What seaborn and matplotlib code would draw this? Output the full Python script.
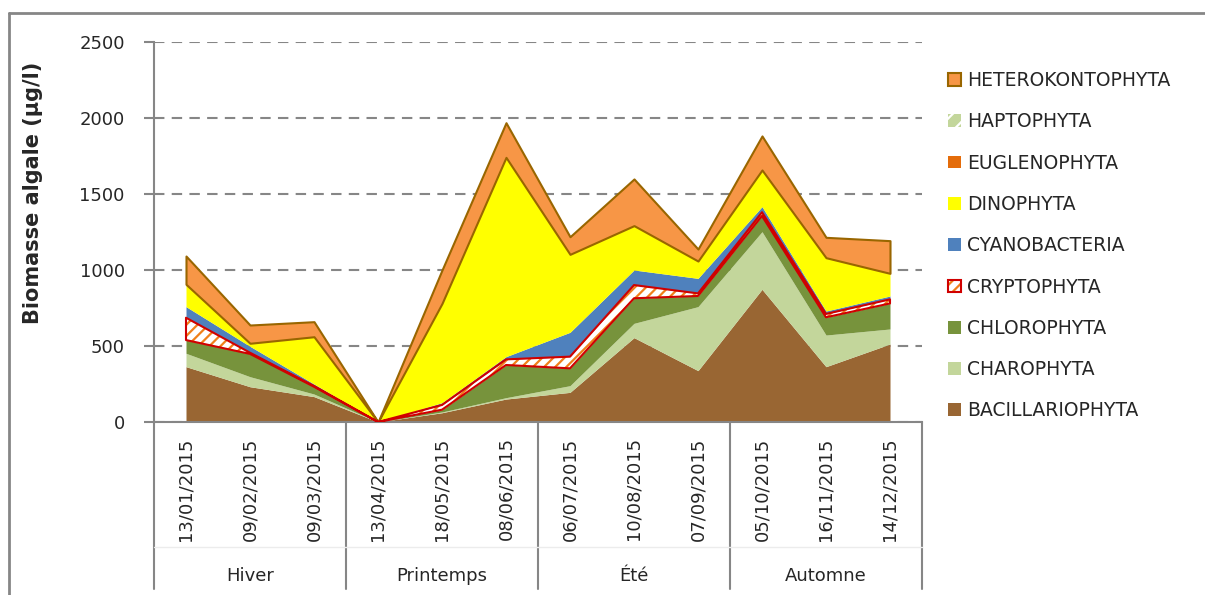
"""
Biomasse algale par groupe taxonomique, 2015 (aires empilées)
Outputs out.png
"""

import matplotlib.pyplot as plt
import numpy as np
import pandas as pd
import seaborn as sns
from matplotlib.lines import Line2D
from matplotlib.patches import Patch
from matplotlib.transforms import blended_transform_factory

dates = ['13/01/2015', '09/02/2015', '09/03/2015', '13/04/2015',
         '18/05/2015', '08/06/2015', '06/07/2015', '10/08/2015',
         '07/09/2015', '05/10/2015', '16/11/2015', '14/12/2015']
seasons = ['Hiver', 'Printemps', 'Été', 'Automne']

bacillariophyta = [364, 232, 167, 0, 61, 151, 195, 555, 338, 873, 364, 513]
charophyta = [88, 66, 17, 0, 5, 9, 44, 94, 421, 379, 208, 99]
chlorophyta = [87, 150, 48, 0, 15, 215, 114, 165, 70, 103, 117, 168]
cryptophyta = [147, 8, 5, 0, 31, 37, 77, 87, 17, 25, 22, 27]
cyanobacteria = [73, 42, 13, 0, 15, 18, 160, 99, 99, 37, 19, 22]
dinophyta = [147, 20, 311, 0, 653, 1311, 513, 292, 114, 241, 351, 149]
euglenophyta = [0, 0, 0, 0, 0, 0, 0, 0, 0, 0, 0, 0]
haptophyta = [0, 0, 0, 0, 0, 0, 0, 0, 0, 0, 0, 0]
heterokontophyta = [186, 120, 99, 0, 220, 228, 116, 307, 79, 224, 134, 215]

sns.set_theme(style='white')
plt.rcParams['font.family'] = ['DejaVu Sans']
plt.rcParams['hatch.linewidth'] = 1.6


def main():
    df = pd.DataFrame({
        'BACILLARIOPHYTA': bacillariophyta,
        'CHAROPHYTA': charophyta,
        'CHLOROPHYTA': chlorophyta,
        'CRYPTOPHYTA': cryptophyta,
        'CYANOBACTERIA': cyanobacteria,
        'DINOPHYTA': dinophyta,
        'EUGLENOPHYTA': euglenophyta,
        'HAPTOPHYTA': haptophyta,
        'HETEROKONTOPHYTA': heterokontophyta,
    }, index=dates)

    colors = {
        'BACILLARIOPHYTA': '#996633',
        'CHAROPHYTA': '#C3D69B',
        'CHLOROPHYTA': '#77933C',
        'CRYPTOPHYTA': 'white',
        'CYANOBACTERIA': '#4F81BD',
        'DINOPHYTA': '#FFFF00',
        'EUGLENOPHYTA': '#E46C0A',
        'HAPTOPHYTA': '#C3D69B',
        'HETEROKONTOPHYTA': '#F79646',
    }

    fig = plt.figure(figsize=(12.05, 5.95), dpi=100)
    ax = fig.add_axes([154 / 1205, 1 - 422 / 595, 768 / 1205, 380 / 595])

    x = np.arange(len(dates))
    base = np.zeros(len(dates))
    for name in df.columns:
        top = base + df[name].to_numpy()
        if name == 'CRYPTOPHYTA':
            ax.fill_between(x, base, top, facecolor='white', edgecolor='#F0801A',
                            hatch='///', linewidth=0, zorder=2)
            ax.fill_between(x, base, top, facecolor='none', edgecolor='#D00000',
                            linewidth=1.5, zorder=3)
        elif name == 'HETEROKONTOPHYTA':
            ax.fill_between(x, base, top, facecolor=colors[name],
                            edgecolor='#996600', linewidth=1.5, zorder=2)
        else:
            ax.fill_between(x, base, top, facecolor=colors[name],
                            linewidth=0, zorder=2)
        base = top

    ax.set_xlim(-0.5, len(dates) - 0.5)
    ax.set_ylim(0, 2500)
    ax.set_yticks(np.arange(0, 2501, 500))
    ax.yaxis.grid(True, color='#868686', linestyle=(0, (5, 3.5)), linewidth=1.5)
    ax.set_axisbelow(True)
    sns.despine(ax=ax, top=True, right=True)
    for side in ['left', 'bottom']:
        ax.spines[side].set_color('#868686')
        ax.spines[side].set_linewidth(1.5)
    ax.tick_params(axis='y', direction='out', length=7, width=1.5,
                   color='#868686', labelsize=13, pad=14, left=True)
    ax.set_xticks(x)
    ax.set_xticklabels(dates, rotation=90, fontsize=13)
    ax.tick_params(axis='x', length=0, pad=11, labelsize=13)

    # category groups below the axis
    trans = blended_transform_factory(ax.transData, ax.transAxes)
    bottom = -(589 - 422) / 380
    for b in [-0.5, 2.5, 5.5, 8.5, 11.5]:
        ax.add_line(Line2D([b, b], [0, bottom], transform=trans, color='#868686',
                           linewidth=1.5, clip_on=False))
    ax.add_line(Line2D([-0.5, 11.5], [-(547 - 422) / 380] * 2, transform=trans,
                       color='#ececec', linewidth=1, clip_on=False))
    for i, s in enumerate(seasons):
        ax.text(i * 3 + 1, -(576 - 422) / 380, s, transform=trans, ha='center',
                va='center', fontsize=13)

    fig.text(33 / 1205, 1 - 193 / 595, 'Biomasse algale (µg/l)', rotation=90,
             ha='center', va='center', fontsize=15, fontweight='bold')

    # legend (reverse order, like the stack)
    handles = []
    for name in df.columns[::-1]:
        if name == 'CRYPTOPHYTA':
            h = (Patch(facecolor='white', edgecolor='#F0801A', hatch='///', linewidth=0),
                 Patch(facecolor='none', edgecolor='#D00000', linewidth=1.5))
        elif name == 'HAPTOPHYTA':
            h = Patch(facecolor='#C3D69B', edgecolor='white', hatch='//', linewidth=0)
        elif name == 'HETEROKONTOPHYTA':
            h = Patch(facecolor=colors[name], edgecolor='#996600', linewidth=1.5)
        else:
            h = Patch(facecolor=colors[name], linewidth=0)
        handles.append(h)
    fig.legend(handles, list(df.columns[::-1]), loc='upper left',
               bbox_to_anchor=(948 / 1205, 1 - 71 / 595), frameon=False,
               fontsize=13.5, handlelength=0.68, handleheight=0.68,
               handletextpad=0.35, labelspacing=1.19, borderpad=0,
               borderaxespad=0)

    # chart frame (only left and top edges visible)
    fig.add_artist(Line2D([9 / 1205, 9 / 1205], [0, 1 - 13 / 595],
                          transform=fig.transFigure, color='#868686', linewidth=2))
    fig.add_artist(Line2D([9 / 1205, 1], [1 - 13 / 595, 1 - 13 / 595],
                          transform=fig.transFigure, color='#868686', linewidth=2))

    fig.savefig('out.png', dpi=100)


if __name__ == '__main__':
    main()
